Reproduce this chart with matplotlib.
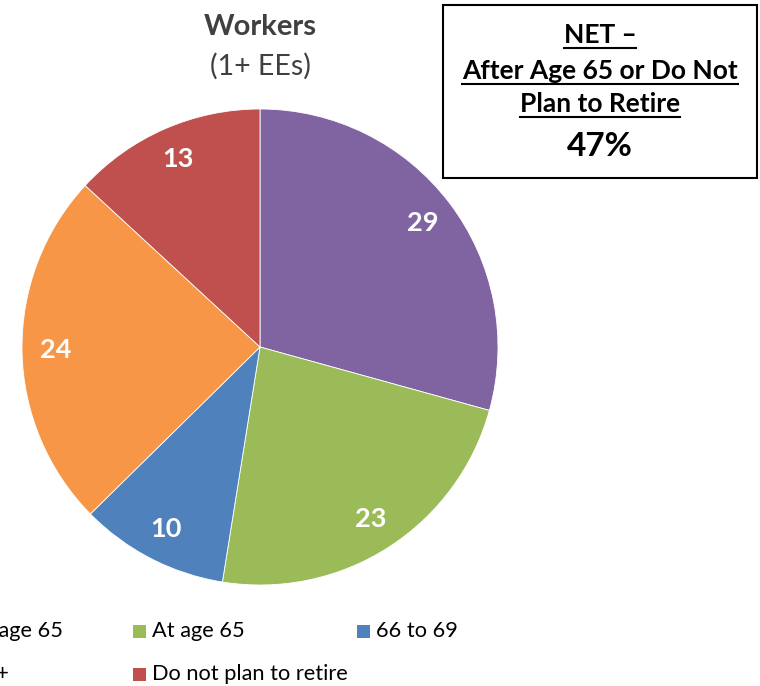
import matplotlib.pyplot as plt
from matplotlib.patches import Rectangle
from matplotlib.lines import Line2D

plt.rcParams['font.family'] = ['Lato', 'DejaVu Sans']

# retirement timing shares (%), clockwise from 12 o'clock
labels = ['Before age 65', 'At age 65', '66 to 69', 'Age 70+', 'Do not plan to retire']
values = [29, 23, 10, 24, 13]
colors = ['#8064A2', '#9BBB59', '#4F81BD', '#F79646', '#C0504D']
net_lines = ['NET \u2013', 'After Age 65 or Do Not', 'Plan to Retire']
net_value = '47%'

W, H = 760, 686
fig = plt.figure(figsize=(W / 100, H / 100), dpi=100)


def fx(px):
    return px / W


def fy(py):
    return 1 - py / H


# pie
cx, cy, r = 260, 347, 238
ax = fig.add_axes([fx(cx - r), fy(cy + r), 2 * r / W, 2 * r / H])
wedges, texts = ax.pie(values, colors=colors, startangle=90, counterclock=False,
                       labels=[str(v) for v in values], labeldistance=0.86,
                       wedgeprops=dict(edgecolor='white', linewidth=0.6))
for t in texts:
    t.set_ha('center')
    t.set_va('center')
    t.set_color('white')
    t.set_fontsize(19.5)
    t.set_fontweight('bold')
ax.set_xlim(-1, 1)
ax.set_ylim(-1, 1)
ax.set_aspect('equal')
ax.axis('off')

# title
fig.text(fx(260), fy(27), 'Workers', ha='center', va='center',
         fontsize=21, fontweight='bold', color='#404040')
fig.text(fx(260), fy(66), '(1+ EEs)', ha='center', va='center',
         fontsize=20.5, color='#404040')

# NET box
fig.patches.append(Rectangle((fx(443), fy(178)), fx(757) - fx(443), fy(5) - fy(178),
                             transform=fig.transFigure, fill=False,
                             edgecolor='black', linewidth=1.5))
ys = [35, 71, 104]
net_texts = []
for s, y in zip(net_lines, ys):
    net_texts.append(fig.text(fx(600), fy(y), s, ha='center', va='center',
                              fontsize=19, fontweight='bold', color='black'))
fig.text(fx(600), fy(146), net_value, ha='center', va='center',
         fontsize=24, fontweight='bold', color='black')

# underline the NET heading lines
fig.canvas.draw()
renderer = fig.canvas.get_renderer()
for t, y in zip(net_texts, ys):
    bb = t.get_window_extent(renderer)
    x0, x1 = bb.x0 / W, bb.x1 / W
    fig.add_artist(Line2D([x0, x1], [fy(y + 13), fy(y + 13)],
                          transform=fig.transFigure, color='black', linewidth=1.5))

# legend, three columns, left column runs off the edge
col_x = [-91, 133, 357]
row_y = [631, 674]
for i, (lab, col) in enumerate(zip(labels, colors)):
    x = col_x[i % 3]
    y = row_y[i // 3]
    fig.patches.append(Rectangle((fx(x), fy(y + 7)), fx(13), 13 / H,
                                 transform=fig.transFigure, facecolor=col,
                                 edgecolor='none'))
    fig.text(fx(x + 19), fy(y), lab, ha='left', va='center',
             fontsize=15.7, color='black')

fig.savefig('out.png', dpi=100)
